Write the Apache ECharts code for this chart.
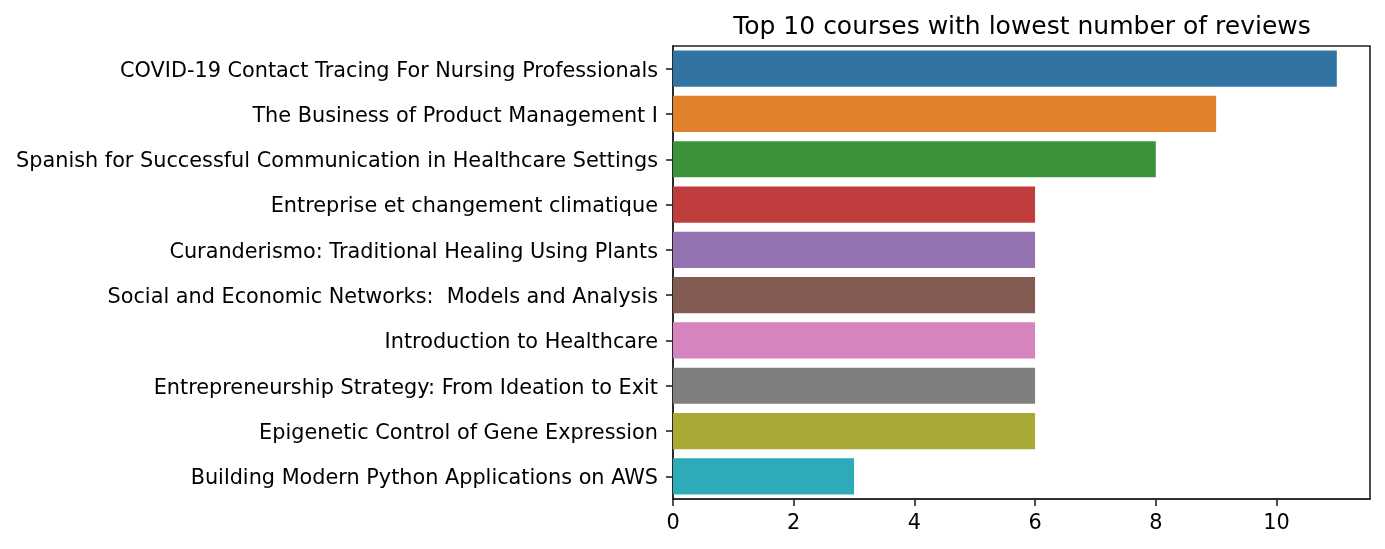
<!DOCTYPE html>
<html><head><meta charset="utf-8">
<script src="https://cdn.jsdelivr.net/npm/echarts@6/dist/echarts.min.js"></script>
<style>html,body{margin:0;padding:0;background:#fff}#c{width:1385px;height:549px}</style>
</head><body><div id="c"></div>
<script>
const categories = [
  "COVID-19 Contact Tracing For Nursing Professionals",
  "The Business of Product Management I",
  "Spanish for Successful Communication in Healthcare Settings",
  "Entreprise et changement climatique",
  "Curanderismo: Traditional Healing Using Plants",
  "Social and Economic Networks:  Models and Analysis",
  "Introduction to Healthcare",
  "Entrepreneurship Strategy: From Ideation to Exit",
  "Epigenetic Control of Gene Expression",
  "Building Modern Python Applications on AWS"
];
const reviews = [11, 9, 8, 6, 6, 6, 6, 6, 6, 3];
const colors = ["#3274a1", "#e1812c", "#3a923a", "#c03d3e", "#9372b2", "#845b53", "#d684bd", "#7f7f7f", "#a9aa35", "#2eabb8"];
const xTicks = [0, 2, 4, 6, 8, 10];
const titleText = "Top 10 courses with lowest number of reviews";

const font = "DejaVu Sans";
const chart = echarts.init(document.getElementById('c'), null, {renderer: 'canvas'});
chart.setOption({
  animation: false,
  backgroundColor: '#ffffff',
  title: {
    text: titleText, left: 1017, top: 10, textAlign: 'center',
    textStyle: {fontFamily: font, fontSize: 25, fontWeight: 'normal', color: '#000'}
  },
  grid: {left: 673, right: 15, top: 46, bottom: 50, containLabel: false, show: true, borderColor: '#222', borderWidth: 1.6},
  xAxis: {
    type: 'value', min: 0, max: 11.55, interval: 2,
    axisLine: {show: true, onZero: false, lineStyle: {color: '#222', width: 1.6}},
    axisTick: {show: true, length: 7, lineStyle: {color: '#222', width: 1.6},
      customValues: xTicks},
    axisLabel: {fontFamily: font, fontSize: 20.8, color: '#000', margin: 14,
      customValues: xTicks, formatter: v => String(v)},
    splitLine: {show: false}
  },
  yAxis: {
    type: 'category', data: categories, inverse: true,
    axisLine: {show: true, lineStyle: {color: '#222', width: 1.6}},
    axisTick: {show: true, length: 7, alignWithLabel: true, lineStyle: {color: '#222', width: 1.6}},
    axisLabel: {margin: 15, formatter: v => '{a|' + v + '}',
      rich: {a: {fontFamily: font, fontSize: 20.8, color: '#000', padding: [5, 0, 0, 0]}}},
    splitLine: {show: false}
  },
  series: [{
    type: 'bar',
    data: reviews.map((v, i) => ({value: v, itemStyle: {color: colors[i]}})),
    barCategoryGap: '20%'
  }]
});
</script></body></html>
